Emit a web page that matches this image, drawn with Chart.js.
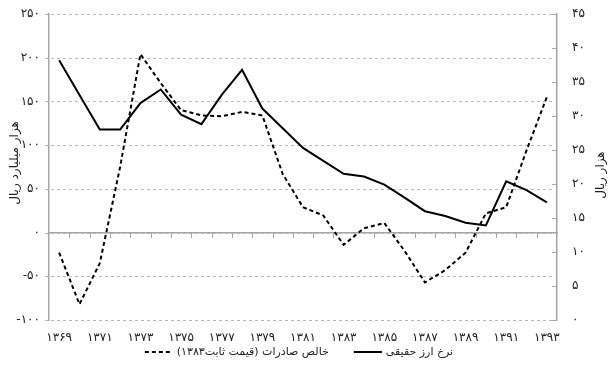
<!DOCTYPE html>
<html>
<head>
<meta charset="utf-8">
<script src="https://cdn.jsdelivr.net/npm/chart.js@4.4.0/dist/chart.umd.min.js"></script>
<style>
html,body{margin:0;padding:0;background:#fff;}
</style>
</head>
<body>
<canvas id="c" width="610" height="377"></canvas>
<script>
// ---- data ----
const years = ['۱۳۶۹','۱۳۷۰','۱۳۷۱','۱۳۷۲','۱۳۷۳','۱۳۷۴','۱۳۷۵','۱۳۷۶','۱۳۷۷','۱۳۷۸','۱۳۷۹','۱۳۸۰','۱۳۸۱','۱۳۸۲','۱۳۸۳','۱۳۸۴','۱۳۸۵','۱۳۸۶','۱۳۸۷','۱۳۸۸','۱۳۸۹','۱۳۹۰','۱۳۹۱','۱۳۹۲','۱۳۹۳'];
const netExports = [-23, -82, -35, 75, 204, 171, 140, 134, 133, 138, 134, 67, 29, 19.5, -14, 5, 11, -21, -57, -43, -23, 22, 29, 94, 155];
const realExchangeRate = [38.2, 33.1, 28.0, 28.0, 31.9, 33.9, 30.2, 28.8, 33.1, 36.8, 31.1, 28.2, 25.3, 23.4, 21.5, 21.1, 19.9, 18.0, 16.0, 15.3, 14.3, 13.9, 20.4, 19.1, 17.3];
const leftTicks = {'250':'۲۵۰','200':'۲۰۰','150':'۱۵۰','100':'۱۰۰','50':'۵۰','0':'۰','-50':'-۵۰','-100':'-۱۰۰'};
const rightTicks = {'0':'۰','5':'۵','10':'۱۰','15':'۱۵','20':'۲۰','25':'۲۵','30':'۳۰','35':'۳۵','40':'۴۰','45':'۴۵'};
const seriesNames = ['خالص صادرات (قیمت ثابت۱۳۸۳)', 'نرخ ارز حقیقی'];
const leftTitle = 'هزار میلیارد ریال';
const rightTitle = 'هزار ریال';

const FONT = '"DejaVu Sans", "Noto Sans", sans-serif';
const axisGray = '#a6a6a6';
const gridGray = '#b8b8b8';
const LRE = '\u202A', PDF = '\u202C', RLM = '\u200F';

function noPad(s) { s.paddingTop = 0; s.paddingBottom = 0; }

const extras = {
  id: 'extras',
  beforeDatasetsDraw(chart) {
    const {ctx, chartArea, scales} = chart;
    ctx.save();
    ctx.strokeStyle = gridGray; ctx.lineWidth = 1; ctx.setLineDash([3, 3]);
    scales.y.ticks.forEach(t => {
      const py = Math.round(scales.y.getPixelForValue(t.value)) + 0.5;
      ctx.beginPath(); ctx.moveTo(chartArea.left - 4, py); ctx.lineTo(chartArea.right - 2, py); ctx.stroke();
    });
    ctx.setLineDash([]);
    ctx.strokeStyle = axisGray;
    const zy = Math.round(scales.y.getPixelForValue(0));
    for (let i = 1; i < years.length; i++) {
      const px = Math.round((scales.x.getPixelForValue(i - 1) + scales.x.getPixelForValue(i)) / 2) + 0.5;
      ctx.beginPath(); ctx.moveTo(px, zy); ctx.lineTo(px, zy + 5); ctx.stroke();
    }
    ctx.restore();
  },
  afterDraw(chart) {
    const {ctx, chartArea, scales} = chart;
    ctx.save();
    ctx.strokeStyle = axisGray; ctx.lineWidth = 1;
    scales.y1.ticks.forEach(t => {
      const py = Math.round(scales.y1.getPixelForValue(t.value)) + 0.5;
      ctx.beginPath(); ctx.moveTo(chartArea.right - 5, py); ctx.lineTo(chartArea.right, py); ctx.stroke();
    });
    // axis titles
    ctx.fillStyle = '#222';
    ctx.font = '12px ' + FONT;
    ctx.textAlign = 'center'; ctx.textBaseline = 'middle';
    const cy = (chartArea.top + chartArea.bottom) / 2;
    ctx.save(); ctx.translate(15, cy - 4); ctx.rotate(-Math.PI/2); ctx.fillText(leftTitle, 0, 0); ctx.restore();
    ctx.save(); ctx.translate(601, cy + 8); ctx.rotate(-Math.PI/2); ctx.fillText(rightTitle, 0, 0); ctx.restore();
    // legend (sample line to the left of each label)
    ctx.font = '11px ' + FONT;
    ctx.textAlign = 'left';
    const sampleW = 28, gap = 4, itemGap = 25, ly = 352;
    const items = chart.data.datasets.map(ds => ({ text: ds.label, dash: ds.borderDash || [] }));
    items.forEach(it => it.w = ctx.measureText(it.text).width);
    const total = items.reduce((a, it) => a + sampleW + gap + it.w, 0) + itemGap * (items.length - 1);
    let x = chart.width / 2 - 6 - total / 2;
    items.forEach(it => {
      ctx.strokeStyle = '#000'; ctx.lineWidth = 2; ctx.setLineDash(it.dash);
      ctx.beginPath(); ctx.moveTo(x, ly); ctx.lineTo(x + sampleW, ly); ctx.stroke();
      ctx.setLineDash([]);
      ctx.fillText(it.text, x + sampleW + gap, ly);
      x += sampleW + gap + it.w + itemGap;
    });
    ctx.restore();
  }
};

new Chart(document.getElementById('c'), {
  type: 'line',
  data: {
    labels: years,
    datasets: [
      {
        label: seriesNames[0] + RLM, data: netExports, yAxisID: 'y', xAxisID: 'x',
        borderColor: '#000', backgroundColor: '#000', borderWidth: 2, borderDash: [4, 3],
        pointRadius: 0, tension: 0, fill: false
      },
      {
        label: seriesNames[1], data: realExchangeRate, yAxisID: 'y1', xAxisID: 'x',
        borderColor: '#000', backgroundColor: '#000', borderWidth: 2,
        pointRadius: 0, tension: 0, fill: false
      }
    ]
  },
  options: {
    responsive: false,
    animation: false,
    devicePixelRatio: 1,
    layout: { padding: { top: 14, bottom: 0, left: 0, right: 0 } },
    plugins: {
      legend: { display: false },
      tooltip: { enabled: false }
    },
    scales: {
      x: {
        type: 'category', position: 'bottom', offset: true,
        grid: { display: false, drawTicks: false },
        border: { display: false },
        ticks: {
          autoSkip: false, maxRotation: 0, padding: 11, color: '#222',
          font: { family: FONT, size: 12 },
          callback: function(v, i) { return i % 2 === 0 ? years[i] : ''; }
        },
        afterFit(s) { s.height = 57; s.paddingLeft = 0; s.paddingRight = 0; }
      },
      xZero: {
        type: 'category', position: { y: 0 }, offset: true,
        grid: { display: false },
        border: { display: true, color: axisGray, width: 1.5 },
        ticks: { display: false },
        afterFit(s) { s.paddingLeft = 0; s.paddingRight = 0; }
      },
      y: {
        position: 'left', min: -100, max: 250,
        ticks: { stepSize: 50, padding: 9, color: '#222', font: { family: FONT, size: 12 },
          callback: v => LRE + leftTicks[String(v)] + PDF },
        grid: { display: false, drawTicks: false },
        border: { display: true, color: axisGray, width: 1.5 },
        afterFit(s) { s.width = 49; noPad(s); }
      },
      y1: {
        position: 'right', min: 0, max: 45,
        ticks: { stepSize: 5, padding: 15, color: '#222', font: { family: FONT, size: 12 },
          callback: v => rightTicks[String(v)] },
        grid: { display: false, drawTicks: false },
        border: { display: true, color: axisGray, width: 1.5 },
        afterFit(s) { s.width = 53; noPad(s); }
      }
    }
  },
  plugins: [extras]
});
</script>
</body>
</html>
